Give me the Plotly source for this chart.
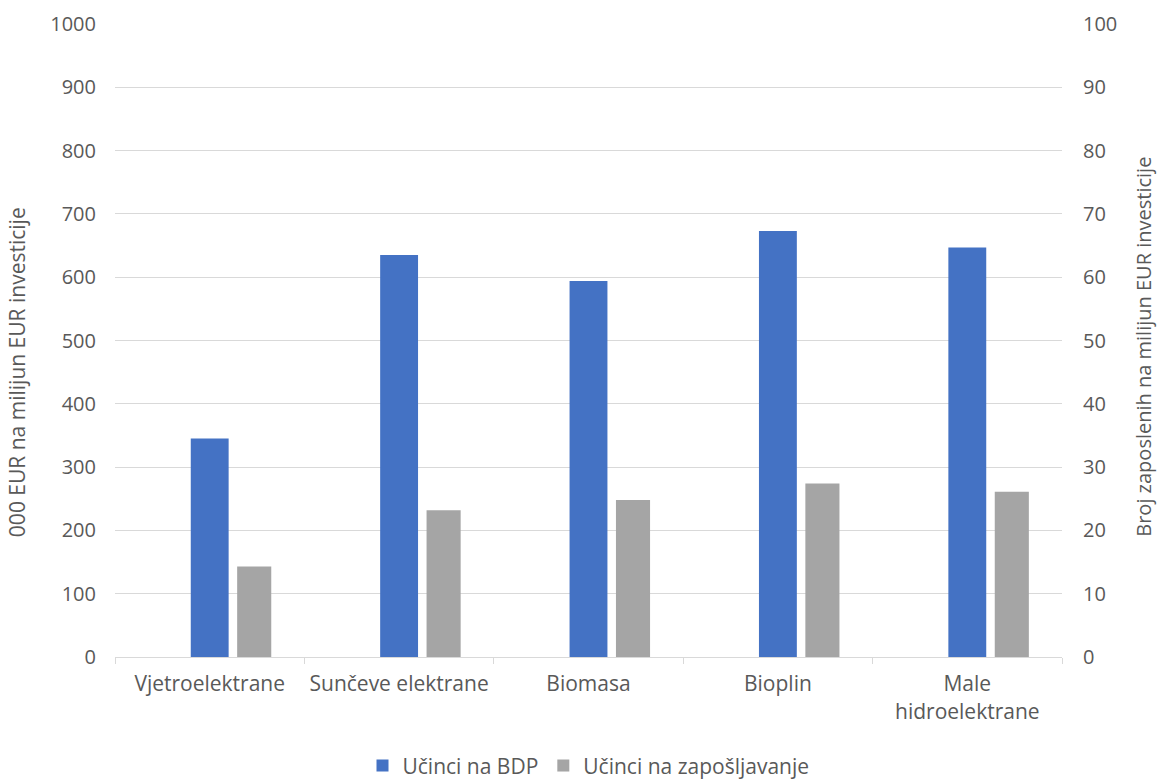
import plotly.graph_objects as go

categories = ["Vjetroelektrane", "Sunčeve elektrane", "Biomasa", "Bioplin", "Male<br>hidroelektrane"]
bdp_values = [345, 635, 594, 673, 647]          # 000 EUR na milijun EUR investicije
employment_values = [14.3, 23.2, 24.8, 27.4, 26.1]  # broj zaposlenih na milijun EUR investicije

left_ticks = list(range(0, 1001, 100))
right_ticks = list(range(0, 101, 10))

FONT = "'Open Sans', Lato, sans-serif"
TXT = "#595959"
GRID = "#D9D9D9"

fig = go.Figure()
fig.add_trace(go.Bar(
    x=categories, y=bdp_values, name="Učinci na BDP",
    marker=dict(color="#4472C4", line=dict(width=0)),
    width=0.2, offset=-0.1, yaxis="y",
))
fig.add_trace(go.Bar(
    x=categories, y=employment_values, name="Učinci na zapošljavanje",
    marker=dict(color="#A5A5A5", line=dict(width=0)),
    width=0.18, offset=0.145, yaxis="y2",
))

fig.update_layout(
    width=1159, height=780,
    margin=dict(l=115, r=97, t=24, b=123, autoexpand=False),
    paper_bgcolor="white", plot_bgcolor="white",
    font=dict(family=FONT, size=20, color=TXT),
    barmode="overlay",
    showlegend=True,
    legend=dict(orientation="h", x=0.5, xanchor="center", y=-0.172, yanchor="middle",
                font=dict(size=21, color=TXT), itemwidth=30,
                traceorder="normal"),
    xaxis=dict(
        type="category", showgrid=False, showline=True, linecolor=GRID, linewidth=1,
        ticks="outside", tickson="boundaries", ticklen=6, tickcolor=GRID,
        ticklabelstandoff=8,
        tickfont=dict(size=21, color=TXT), automargin=False,
    ),
    yaxis=dict(
        range=[0, 1000], tickvals=left_ticks, showgrid=True, gridcolor=GRID,
        zeroline=False, showline=False, ticks="", ticklabelstandoff=18,
        tickfont=dict(size=20, color=TXT), automargin=False,
    ),
    yaxis2=dict(
        range=[0, 100], tickvals=right_ticks, overlaying="y", side="right",
        showgrid=False, zeroline=False, showline=False, ticks="", ticklabelstandoff=20,
        tickfont=dict(size=20, color=TXT), automargin=False,
    ),
    annotations=[
        dict(text="000 EUR na milijun EUR investicije", xref="paper", yref="paper",
             x=-0.1035, y=0.45, textangle=-90, showarrow=False,
             xanchor="center", yanchor="middle", font=dict(size=21, color=TXT)),
        dict(text="Broj zaposlenih na milijun EUR investicije", xref="paper", yref="paper",
             x=1.0865, y=0.49, textangle=-90, showarrow=False,
             xanchor="center", yanchor="middle", font=dict(size=20, color=TXT)),
    ],
)

fig.write_html("out.html")
